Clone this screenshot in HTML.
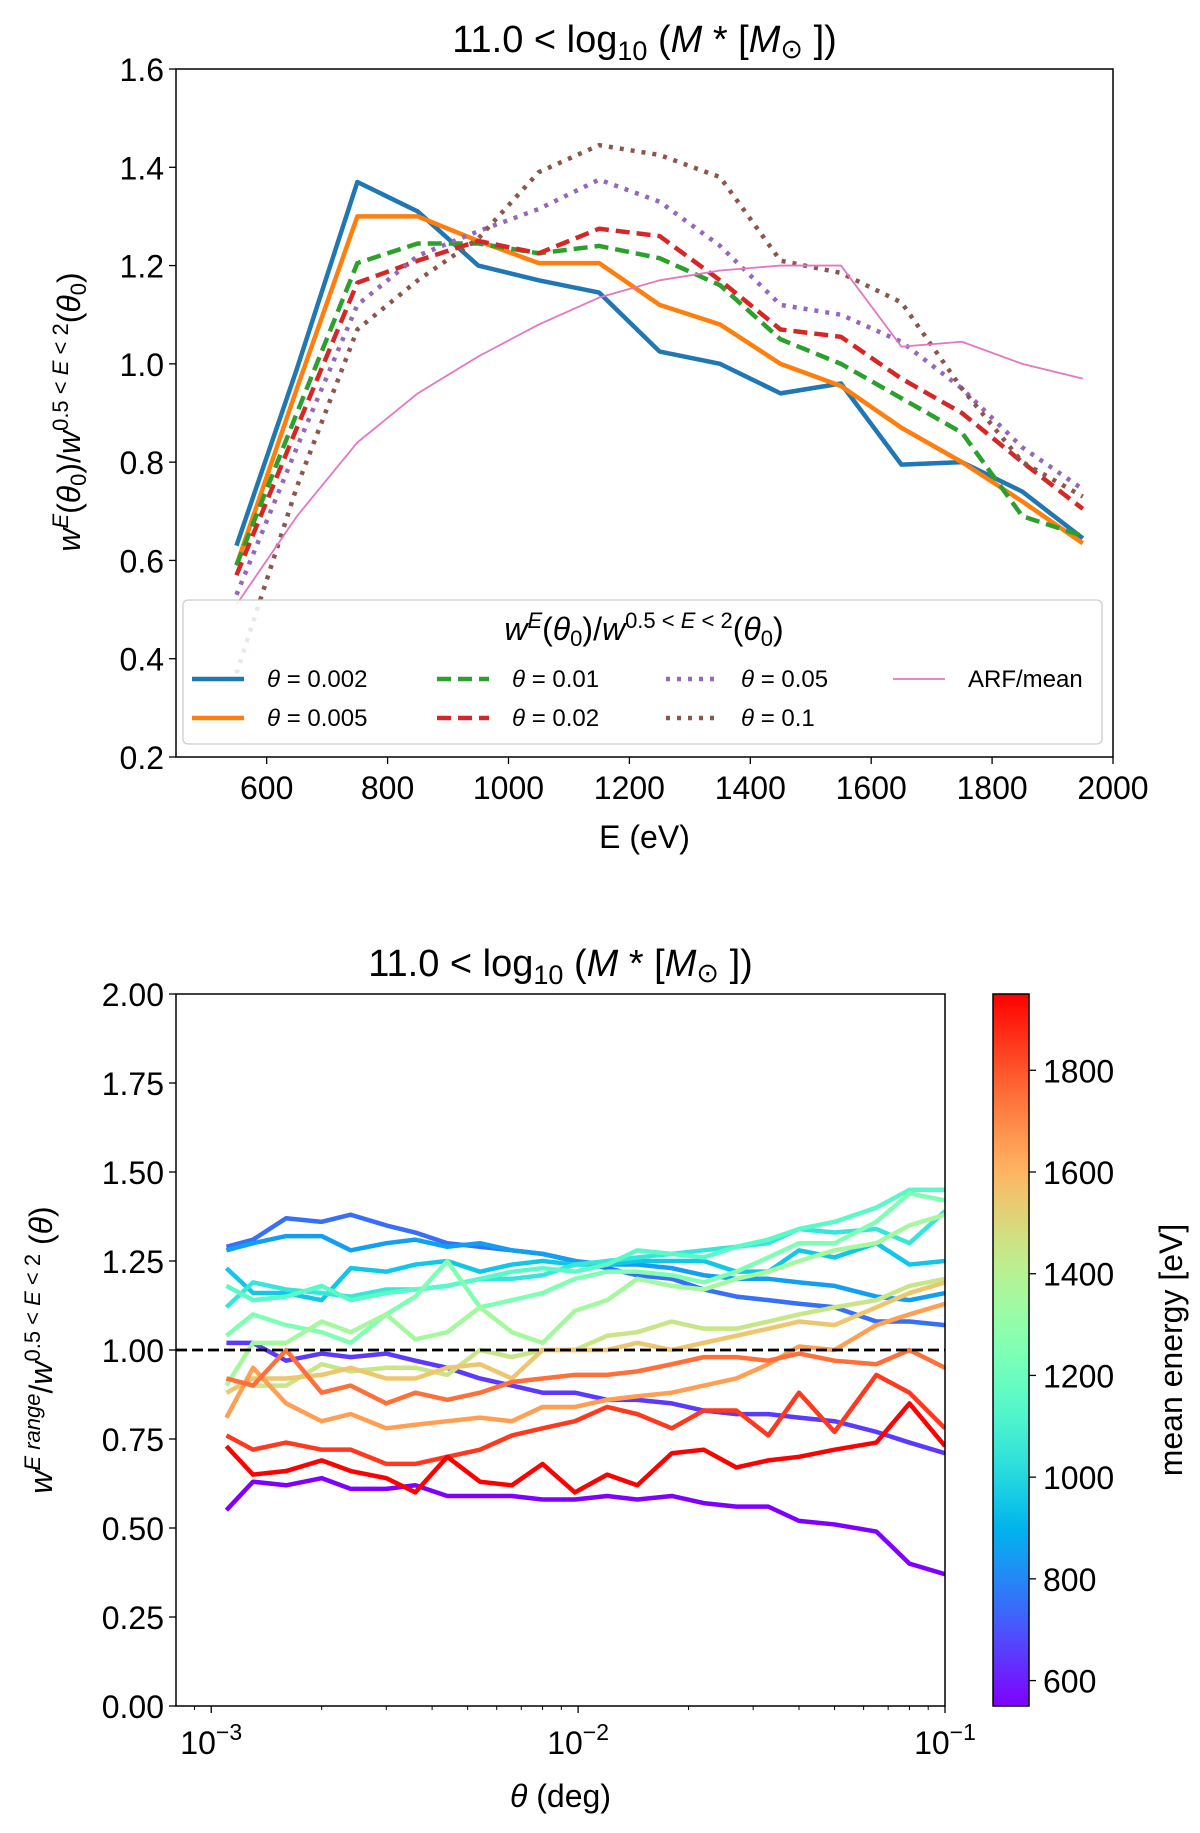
<!DOCTYPE html>
<html><head><meta charset="utf-8"><style>
body{margin:0;background:#fff}
svg{display:block;font-family:"Liberation Sans","DejaVu Sans",sans-serif}
</style></head><body>
<svg id="s" width="1200" height="1833" viewBox="0 0 1200 1833"></svg>
<script>
const energies=[550,650,750,850,950,1050,1150,1250,1350,1450,1550,1650,1750,1850,1950];
const s002=[0.63,0.99,1.37,1.31,1.20,1.17,1.145,1.025,1.0,0.94,0.96,0.795,0.80,0.74,0.645];
const s005=[0.59,0.95,1.30,1.30,1.25,1.205,1.205,1.12,1.08,1.0,0.955,0.87,0.80,0.72,0.635];
const s01=[0.59,0.90,1.205,1.245,1.245,1.225,1.24,1.215,1.16,1.05,1.0,0.93,0.86,0.69,0.65];
const s02=[0.57,0.87,1.165,1.21,1.25,1.225,1.275,1.26,1.17,1.07,1.055,0.97,0.90,0.80,0.705];
const s05=[0.53,0.83,1.12,1.22,1.27,1.315,1.375,1.33,1.24,1.12,1.10,1.045,0.95,0.83,0.745];
const s1=[0.37,0.75,1.07,1.17,1.255,1.39,1.445,1.425,1.38,1.21,1.185,1.125,0.95,0.80,0.73];
const arf=[0.51,0.69,0.84,0.94,1.015,1.08,1.135,1.17,1.19,1.20,1.20,1.035,1.045,1.0,0.97];
const topXTicks=[600,800,1000,1200,1400,1600,1800,2000];
const topYTicks=[0.2,0.4,0.6,0.8,1.0,1.2,1.4,1.6];
const thetas=[0.0011,0.0013,0.0016,0.002,0.0024,0.003,0.0036,0.0044,0.0054,0.0066,0.008,0.0098,0.012,0.0145,0.018,0.022,0.027,0.033,0.04,0.05,0.065,0.08,0.1];
const bandE=[550,650,750,850,950,1050,1150,1250,1350,1450,1550,1650,1750,1850,1950];
const b550=[0.55,0.63,0.62,0.64,0.61,0.61,0.62,0.59,0.59,0.59,0.58,0.58,0.59,0.58,0.59,0.57,0.56,0.56,0.52,0.51,0.49,0.40,0.37];
const b650=[1.02,1.02,0.97,0.99,0.98,0.99,0.97,0.95,0.92,0.9,0.88,0.88,0.86,0.86,0.85,0.83,0.82,0.82,0.81,0.8,0.77,0.74,0.71];
const b750=[1.29,1.31,1.37,1.36,1.38,1.35,1.33,1.30,1.29,1.28,1.27,1.25,1.23,1.21,1.2,1.17,1.15,1.14,1.13,1.12,1.08,1.08,1.07];
const b850=[1.28,1.30,1.32,1.32,1.28,1.3,1.31,1.29,1.3,1.28,1.27,1.25,1.24,1.24,1.23,1.21,1.2,1.2,1.19,1.18,1.15,1.14,1.16];
const b950=[1.23,1.16,1.16,1.14,1.23,1.22,1.24,1.25,1.22,1.24,1.25,1.24,1.24,1.25,1.25,1.25,1.22,1.22,1.28,1.26,1.30,1.24,1.25];
const b1050=[1.12,1.19,1.17,1.16,1.15,1.17,1.17,1.18,1.2,1.2,1.21,1.24,1.25,1.26,1.27,1.28,1.29,1.3,1.34,1.33,1.34,1.30,1.39];
const b1150=[1.18,1.14,1.15,1.18,1.14,1.16,1.17,1.18,1.2,1.22,1.23,1.22,1.24,1.28,1.27,1.26,1.29,1.31,1.34,1.36,1.4,1.45,1.45];
const b1250=[1.04,1.1,1.07,1.05,1.02,1.1,1.15,1.25,1.12,1.14,1.16,1.2,1.22,1.22,1.21,1.19,1.22,1.26,1.3,1.3,1.36,1.44,1.42];
const b1350=[0.9,1.02,1.02,1.08,1.05,1.1,1.03,1.05,1.12,1.05,1.02,1.11,1.14,1.2,1.18,1.17,1.2,1.22,1.25,1.28,1.30,1.35,1.38];
const b1450=[0.92,0.9,0.9,0.96,0.94,0.95,0.95,0.93,1.0,0.98,1.0,1.0,1.04,1.05,1.08,1.06,1.06,1.08,1.1,1.12,1.14,1.18,1.2];
const b1550=[0.88,0.92,0.92,0.93,0.95,0.92,0.92,0.95,0.96,0.92,1.0,1.0,1.0,1.02,1.0,1.02,1.04,1.06,1.08,1.07,1.12,1.16,1.19];
const b1650=[0.81,0.95,0.85,0.8,0.82,0.78,0.79,0.80,0.81,0.80,0.84,0.84,0.86,0.87,0.88,0.90,0.92,0.96,1.01,1.0,1.07,1.1,1.13];
const b1750=[0.92,0.9,1.0,0.88,0.9,0.85,0.88,0.86,0.88,0.91,0.92,0.93,0.93,0.94,0.96,0.98,0.98,0.97,0.99,0.97,0.96,1.0,0.95];
const b1850=[0.76,0.72,0.74,0.72,0.72,0.68,0.68,0.70,0.72,0.76,0.78,0.80,0.84,0.82,0.78,0.83,0.83,0.76,0.88,0.77,0.93,0.88,0.78];
const b1950=[0.73,0.65,0.66,0.69,0.66,0.64,0.60,0.70,0.63,0.62,0.68,0.60,0.65,0.62,0.71,0.72,0.67,0.69,0.70,0.72,0.74,0.85,0.73];
const botYTicks=[0,0.25,0.5,0.75,1.0,1.25,1.5,1.75,2.0];
const cbTicks=[600,800,1000,1200,1400,1600,1800];

const svg=document.getElementById('s');const NS='http://www.w3.org/2000/svg';
const FS=32;
function mk(tag,at,parent){const e=document.createElementNS(NS,tag);for(const k in at)e.setAttribute(k,at[k]);(parent||svg).appendChild(e);return e;}
function txt(str,x,y,size,anchor,name,parent){const t=mk('text',{x:x,y:y,'font-size':size,'text-anchor':anchor||'middle',fill:'#000'},parent);t.textContent=str;


return t;}
function rainbow(v){const x=(v-550)/1400;const c=a=>Math.round(255*Math.max(0,Math.min(1,a)));return `rgb(${c(Math.abs(2*x-0.5))},${c(Math.sin(Math.PI*x))},${c(Math.cos(Math.PI*x/2))})`;}

// ---- top chart
const T={l:176,r:1113,t:69,b:757,x0:450,x1:2000,y0:0.2,y1:1.6};
const tx=v=>T.l+(v-T.x0)/(T.x1-T.x0)*(T.r-T.l);
const ty=v=>T.b-(v-T.y0)/(T.y1-T.y0)*(T.b-T.t);
const gTop=mk('g',{});


const cp=mk('clipPath',{id:'c1'},gTop);mk('rect',{x:T.l,y:T.t,width:T.r-T.l,height:T.b-T.t},cp);
const series=[[s002,'#1f77b4',4.5,'','theta-0.002'],[s005,'#ff7f0e',4.5,'','theta-0.005'],[s01,'#2ca02c',4.5,'14 7','theta-0.01'],[s02,'#d62728',4.5,'14 7','theta-0.02'],[s05,'#9467bd',4.5,'4 7','theta-0.05'],[s1,'#8c564b',4.5,'4 7','theta-0.1'],[arf,'#e377c2',1.8,'','arf-mean']];
series.forEach(([d,c,w,da,n])=>{const p=mk('polyline',{points:d.map((v,i)=>tx(energies[i])+','+ty(v)).join(' '),fill:'none',stroke:c,'stroke-width':w,'stroke-dasharray':da,'clip-path':'url(#c1)','stroke-linejoin':'round'},gTop);

});
const fr=mk('rect',{x:T.l,y:T.t,width:T.r-T.l,height:T.b-T.t,fill:'none',stroke:'#000','stroke-width':1.5},gTop);


topXTicks.forEach(v=>{mk('line',{x1:tx(v),x2:tx(v),y1:T.b,y2:T.b+7,stroke:'#000','stroke-width':1.3},gTop);txt(String(v),tx(v),T.b+42,FS,'middle','x-tick-label',gTop);});
topYTicks.forEach(v=>{mk('line',{x1:T.l-7,x2:T.l,y1:ty(v),y2:ty(v),stroke:'#000','stroke-width':1.3},gTop);txt(v.toFixed(1),T.l-12,ty(v)+12,FS,'end','y-tick-label',gTop);});
txt('E (eV)',(T.l+T.r)/2,848,FS,'middle','x-axis-title',gTop);
let tt=txt('',(T.l+T.r)/2,52,38,'middle','top-title',gTop);
tt.innerHTML='11.0 &lt; log<tspan font-size="27" dy="8">10</tspan><tspan dy="-8"> (</tspan><tspan font-style="italic">M</tspan> * [<tspan font-style="italic">M</tspan><tspan font-size="27" dy="6">⊙</tspan><tspan dy="-6"> ])</tspan>';
let yl=txt('',0,0,FS,'middle','y-axis-title',gTop);yl.setAttribute('transform','translate(80,412) rotate(-90)');
const ylab='<tspan font-style="italic">w</tspan><tspan font-size="22" dy="-12" font-style="italic">E</tspan><tspan dy="12">(</tspan><tspan font-style="italic">θ</tspan><tspan font-size="22" dy="6">0</tspan><tspan dy="-6">)/</tspan><tspan font-style="italic">w</tspan><tspan font-size="22" dy="-12">0.5 &lt; </tspan><tspan font-size="22" font-style="italic">E</tspan><tspan font-size="22"> &lt; 2</tspan><tspan dy="12">(</tspan><tspan font-style="italic">θ</tspan><tspan font-size="22" dy="6">0</tspan><tspan dy="-6">)</tspan>';
yl.innerHTML=ylab;
// legend
const lg=mk('g',{},gTop);


mk('rect',{x:183,y:600,width:919,height:144,rx:5,fill:'#fff','fill-opacity':0.85,stroke:'#ccc','stroke-width':1.3},lg);
let lt=txt('',644,640,FS,'middle','legend-title',lg);
lt.innerHTML=ylab;
const leg=[[0,192,679,'θ = 0.002'],[1,192,718,'θ = 0.005'],[2,437,679,'θ = 0.01'],[3,437,718,'θ = 0.02'],[4,666,679,'θ = 0.05'],[5,666,718,'θ = 0.1'],[6,893,679,'ARF/mean']];
leg.forEach(([i,x,y,l])=>{const sr=series[i];const e=mk('g',{},lg);


mk('line',{x1:x,x2:x+52,y1:y,y2:y,stroke:sr[1],'stroke-width':sr[2],'stroke-dasharray':sr[3]},e);
const t=txt('',x+75,y+8,24,'start','legend-label',e);
if(i<6){t.innerHTML='<tspan font-style="italic">θ</tspan>'+l.slice(1);}else t.textContent=l;});

// ---- bottom chart
const B={l:176,r:945,t:994,b:1706,lx0:-3.096,lx1:-1,y0:0,y1:2};
const bx=v=>B.l+(Math.log10(v)-B.lx0)/(B.lx1-B.lx0)*(B.r-B.l);
const by=v=>B.b-(v-B.y0)/(B.y1-B.y0)*(B.b-B.t);
const gB=mk('g',{});


const cp2=mk('clipPath',{id:'c2'},gB);mk('rect',{x:B.l,y:B.t,width:B.r-B.l,height:B.b-B.t},cp2);
const bands=[b550,b650,b750,b850,b950,b1050,b1150,b1250,b1350,b1450,b1550,b1650,b1750,b1850,b1950];
bands.forEach((d,k)=>{const p=mk('polyline',{points:d.map((v,i)=>bx(thetas[i])+','+by(v)).join(' '),fill:'none',stroke:rainbow(bandE[k]),'stroke-width':4.5,'clip-path':'url(#c2)','stroke-linejoin':'round'},gB);

});
const ref=mk('line',{x1:B.l,x2:B.r,y1:by(1),y2:by(1),stroke:'#000','stroke-width':2.8,'stroke-dasharray':'11 5'},gB);


const fr2=mk('rect',{x:B.l,y:B.t,width:B.r-B.l,height:B.b-B.t,fill:'none',stroke:'#000','stroke-width':1.5},gB);


[-3,-2,-1].forEach(e=>{const x=bx(Math.pow(10,e));mk('line',{x1:x,x2:x,y1:B.b,y2:B.b+7,stroke:'#000','stroke-width':1.3},gB);
const t=txt('',x,B.b+48,FS,'middle','x-tick-label',gB);t.innerHTML='10<tspan font-size="23" dy="-14">−'+(-e)+'</tspan>';
if(e<-1)for(let m=2;m<10;m++){const xm=bx(m*Math.pow(10,e));mk('line',{x1:xm,x2:xm,y1:B.b,y2:B.b+4,stroke:'#000','stroke-width':1},gB);}});
mk('line',{x1:bx(0.0009),x2:bx(0.0009),y1:B.b,y2:B.b+4,stroke:'#000','stroke-width':1},gB);
botYTicks.forEach(v=>{mk('line',{x1:B.l-7,x2:B.l,y1:by(v),y2:by(v),stroke:'#000','stroke-width':1.3},gB);txt(v.toFixed(2),B.l-12,by(v)+12,FS,'end','y-tick-label',gB);});
let xt=txt('',(B.l+B.r)/2,1807,FS,'middle','x-axis-title',gB);xt.innerHTML='<tspan font-style="italic">θ</tspan> (deg)';
let bt=txt('',(B.l+B.r)/2,976,38,'middle','bottom-title',gB);bt.innerHTML=tt.innerHTML;
let yl2=txt('',0,0,FS,'middle','y-axis-title',gB);yl2.setAttribute('transform','translate(52,1350) rotate(-90)');
yl2.innerHTML='<tspan font-style="italic">w</tspan><tspan font-size="22" dy="-12" font-style="italic">E range</tspan><tspan dy="12">/</tspan><tspan font-style="italic">w</tspan><tspan font-size="22" dy="-12">0.5 &lt; </tspan><tspan font-size="22" font-style="italic">E</tspan><tspan font-size="22"> &lt; 2</tspan><tspan dy="12"> (</tspan><tspan font-style="italic">θ</tspan><tspan>)</tspan>';
// colorbar
const C={l:993,r:1029,t:994,b:1706,v0:550,v1:1950};
const cy=v=>C.b-(v-C.v0)/(C.v1-C.v0)*(C.b-C.t);
const defs=mk('defs',{});const gr=mk('linearGradient',{id:'cg',x1:0,y1:1,x2:0,y2:0},defs);
for(let i=0;i<=20;i++){mk('stop',{offset:i/20,'stop-color':rainbow(550+1400*i/20)},gr);}
const cb=mk('rect',{x:C.l,y:C.t,width:C.r-C.l,height:C.b-C.t,fill:'url(#cg)',stroke:'#000','stroke-width':1.5});


cbTicks.forEach(v=>{mk('line',{x1:C.r,x2:C.r+7,y1:cy(v),y2:cy(v),stroke:'#000','stroke-width':1.3});txt(String(v),C.r+14,cy(v)+12,FS,'start','colorbar-tick-label');});
const cl=txt('mean energy [eV]',0,0,FS,'middle','colorbar-title');cl.setAttribute('transform','translate(1182,1350) rotate(-90)');
</script>
</body></html>
